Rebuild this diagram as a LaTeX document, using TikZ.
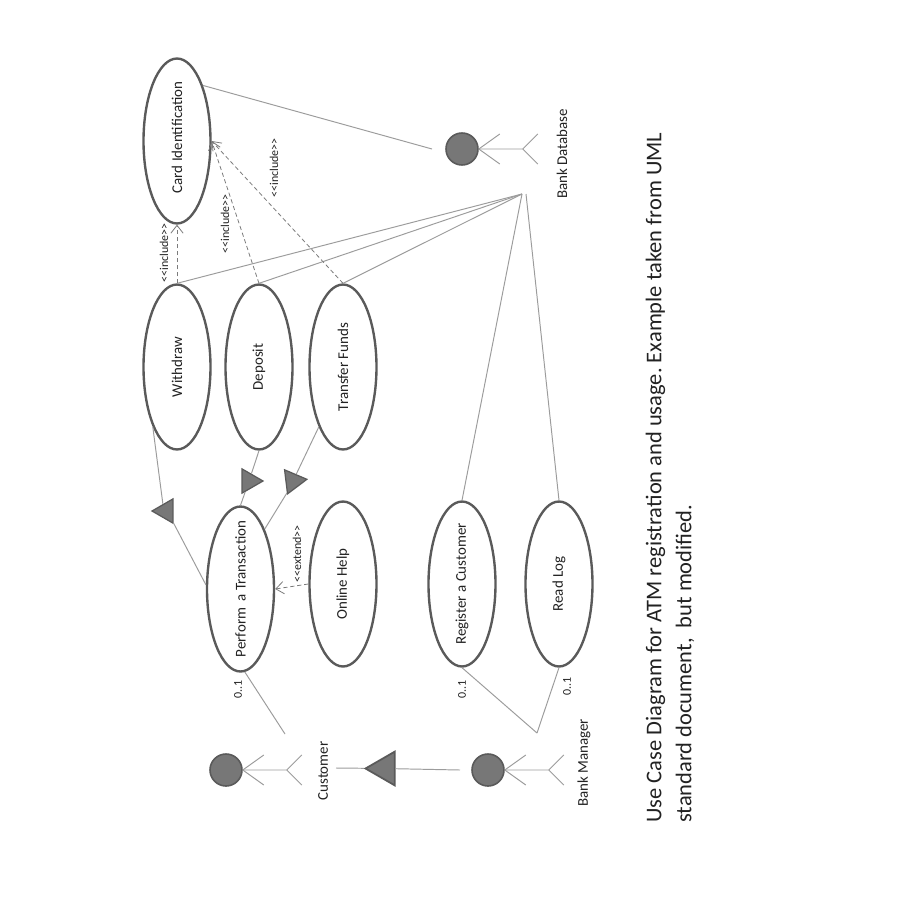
\documentclass[tikz,border=0pt]{standalone}
\usepackage{fontspec}
\setmainfont{Carlito}
\frenchspacing
\usetikzlibrary{shapes.geometric,arrows.meta}
\definecolor{umlline}{HTML}{9C9C9C}
\definecolor{umledge}{HTML}{5A5A5A}
\definecolor{umlfill}{HTML}{777777}
\definecolor{umltext}{HTML}{222222}
\newcommand{\ucname}[1]{\makebox[0pt]{#1}}
\tikzset{
	usecase/.style={draw=umledge, line width=1.35pt, fill=white, ellipse, inner sep=0pt, minimum width=3.3cm, minimum height=1.34cm, rotate=90, text=umltext, font=\fontsize{8.5}{10}\selectfont},
	actorhead/.style={draw=umledge, line width=0.9pt, fill=umlfill, circle, inner sep=0pt, minimum size=0.64cm},
	genarrow/.style={draw=umledge, line width=0.7pt, fill=umlfill, regular polygon, regular polygon sides=3, inner sep=0pt, minimum size=0.56cm},
	assoc/.style={draw=umlline, line width=0.55pt},
	depend/.style={draw=umledge!80, line width=0.45pt, dash pattern=on 2.4pt off 1.6pt, -{Straight Barb[length=4.5pt,width=7pt]}},
	label/.style={rotate=90, inner sep=0pt, text=umltext, font=\fontsize{8.5}{10}\selectfont},
	small/.style={rotate=90, inner sep=0pt, text=umltext, font=\fontsize{6.8}{8}\selectfont}
}
\begin{document}
\begin{tikzpicture}[x=0.02cm,y=-0.02cm]

	%Background
	\useasboundingbox (0,0) rectangle (900,900);
	\fill[white] (0,0) rectangle (900,900);

	%Use cases
	\node[usecase] (card) at (177,141) {\ucname{\hspace{4pt}Card Identification}};
	\node[usecase] (withdraw) at (177,367) {\ucname{Withdraw}};
	\node[usecase] (deposit) at (259,367) {\ucname{Deposit}};
	\node[usecase] (transfer) at (343,367) {\ucname{Transfer Funds}};
	\node[usecase] (perform) at (240.5,589) {\ucname{Perform\ \ a Transaction}};
	\node[usecase] (help) at (343,584) {\ucname{Online Help}};
	\node[usecase] (register) at (462,584) {\ucname{Register a Customer}};
	\node[usecase] (readlog) at (559,584) {\ucname{Read Log}};

	%Customer
	\node[actorhead] (custhead) at (226,770) {};
	\draw[assoc] (custhead.east) -- ++(44,0) -- ++(15,-15) (custhead.east) ++(44,0) -- ++(15,15);
	\draw[assoc] (custhead.east) -- ++(21,-15) (custhead.east) -- ++(21,15);
	\node[label] (custname) at (323,771) {Customer};

	%Bank Manager
	\node[actorhead] (mgrhead) at (488,770) {};
	\draw[assoc] (mgrhead.east) -- ++(44,0) -- ++(15,-15) (mgrhead.east) ++(44,0) -- ++(15,15);
	\draw[assoc] (mgrhead.east) -- ++(21,-15) (mgrhead.east) -- ++(21,15);
	\node[label] (mgrname) at (584,763) {Bank Manager};

	%Bank Database
	\node[actorhead] (dbhead) at (462,149) {};
	\draw[assoc] (dbhead.east) -- ++(44,0) -- ++(15,-15) (dbhead.east) ++(44,0) -- ++(15,15);
	\draw[assoc] (dbhead.east) -- ++(21,-15) (dbhead.east) -- ++(21,15);
	\node[label] (dbname) at (562,154) {Bank Database};

	%Free ends
	\coordinate (dbcard) at (432,149);
	\coordinate (dbfan) at (522,194);
	\coordinate (dbfanb) at (526,194);
	\coordinate (custend) at (285,734);
	\coordinate (mgrend) at (537,733);
	\coordinate (custlink) at (336,768);
	\coordinate (mgrlink) at (460,770);

	%Generalisation
	\node[genarrow, shape border rotate=90] (genwithdraw) at (166,511) {};
	\node[genarrow, shape border rotate=270] (gendeposit) at (249,481) {};
	\node[genarrow, shape border rotate=277] (gentransfer) at (293,481) {};
	\node[genarrow, shape border rotate=90, minimum size=0.78cm, line width=1pt] (genactor) at (385,768.5) {};
	\draw[assoc] (withdraw.158) -- (genwithdraw.114);
	\draw[assoc] (genwithdraw.302) -- (perform.83);
	\draw[assoc] (deposit.west) -- (gendeposit);
	\draw[assoc] (gendeposit) -- (perform.east);
	\draw[assoc] (transfer.158) -- (gentransfer);
	\draw[assoc] (gentransfer.243) -- (perform.338);
	\draw[assoc] (mgrlink) -- (genactor);
	\draw[assoc] (genactor) -- (custlink);

	%Associations
	\draw[assoc] (card.335.5) -- (dbcard);
	\draw[assoc] (withdraw.east) -- (dbfan);
	\draw[assoc] (deposit.east) -- (dbfan);
	\draw[assoc] (transfer.east) -- (dbfan);
	\draw[assoc] (register.east) -- (dbfan);
	\draw[assoc] (readlog.east) -- (dbfanb);
	\draw[assoc] (perform.183) -- (custend);
	\draw[assoc] (register.west) -- (mgrend);
	\draw[assoc] (readlog.west) -- (mgrend);

	%Dependencies
	\draw[depend] (withdraw.east) -- (card.west);
	\draw[depend] (deposit.east) -- (card.south);
	\draw[depend] (transfer.east) -- (card.south);
	\draw[depend] (help.north) -- (perform.south);

	%Stereotypes
	\node[small] (inca) at (164,253) {{<}{<}include{>}{>}};
	\node[small] (incb) at (225,224) {{<}{<}include{>}{>}};
	\node[small] (incc) at (274,168) {{<}{<}include{>}{>}};
	\node[small] (ext) at (297,554) {{<}{<}extend{>}{>}};

	%Multiplicity
	\node[small] (multa) at (238,689) {0..1};
	\node[small] (multb) at (462,689) {0..1};
	\node[small] (multc) at (567,686) {0..1};

	%Caption
	\node[rotate=90, anchor=west, align=left, inner sep=0pt, text=umltext, font=\fontsize{12.8}{17}\selectfont] (caption) at (670,823) {Use Case Diagram for ATM registration and usage. Example taken from UML\\standard document,\ \ but modified.};

\end{tikzpicture}
\end{document}
